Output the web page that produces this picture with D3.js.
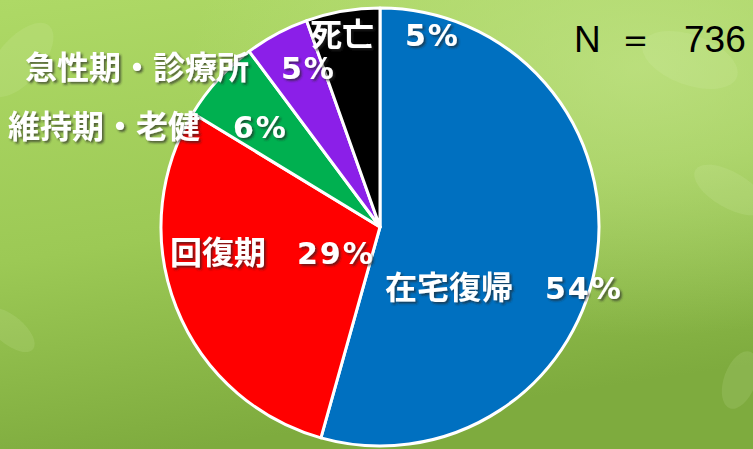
<!DOCTYPE html>
<html>
<head>
<meta charset="utf-8">
<script src="https://cdn.jsdelivr.net/npm/d3@7"></script>
<style>
  body { margin: 0; }
  svg { display: block; }
</style>
</head>
<body>
<div class="canvas"></div>
<script>
const categories = ["在宅復帰", "回復期", "維持期・老健", "急性期・診療所", "死亡"];
const counts = [400, 216, 45, 35, 40];
const colours = ["#0070c0", "#ff0000", "#00b050", "#8b1fe8", "#000000"];
const total = 736;

// label placement (name start x, pct start x, baseline y)
const labelPos = [
  {nx: 385, px: 545, y: 299},
  {nx: 170, px: 297, y: 264},
  {nx: 8,   px: 233, y: 138},
  {nx: 25,  px: 281, y: 79},
  {nx: 310, px: 405, y: 46}
];

const width = 753, height = 449;
const cx = 380, cy = 227, radius = 219;

const svg = d3.select('.canvas')
  .append('svg')
  .attr('width', width)
  .attr('height', height);

const defs = svg.append('defs');
const bg = defs.append('linearGradient')
  .attr('id', 'bg')
  .attr('x1', 0).attr('y1', 0).attr('x2', 0.25).attr('y2', 1);
bg.append('stop').attr('offset', '0%').attr('stop-color', '#aed966');
bg.append('stop').attr('offset', '55%').attr('stop-color', '#9cc955');
bg.append('stop').attr('offset', '100%').attr('stop-color', '#7eab3e');

const glow = defs.append('radialGradient')
  .attr('id', 'glow')
  .attr('cx', 0.85).attr('cy', 0.15).attr('r', 0.6);
glow.append('stop').attr('offset', '0%').attr('stop-color', '#c4e58a').attr('stop-opacity', 0.7);
glow.append('stop').attr('offset', '100%').attr('stop-color', '#c4e58a').attr('stop-opacity', 0);

const shadow = defs.append('filter')
  .attr('id', 'shadow')
  .attr('x', '-10%').attr('y', '-30%').attr('width', '130%').attr('height', '160%');
shadow.append('feDropShadow')
  .attr('dx', 2).attr('dy', 2).attr('stdDeviation', 1.2)
  .attr('flood-color', '#202020').attr('flood-opacity', 0.65);

svg.append('rect').attr('width', width).attr('height', height).attr('fill', 'url(#bg)');
svg.append('rect').attr('width', width).attr('height', height).attr('fill', 'url(#glow)');

// faint leaves in the background
const leaves = [
  {x: 20, y: 60, rx: 45, ry: 22, r: -50},
  {x: 730, y: 190, rx: 40, ry: 18, r: 30},
  {x: 740, y: 380, rx: 30, ry: 16, r: -70},
  {x: 10, y: 330, rx: 30, ry: 14, r: 40},
  {x: 690, y: 60, rx: 50, ry: 25, r: 20}
];
svg.append('g').selectAll('ellipse')
  .data(leaves)
  .join('ellipse')
  .attr('cx', d => d.x).attr('cy', d => d.y)
  .attr('rx', d => d.rx).attr('ry', d => d.ry)
  .attr('transform', d => `rotate(${d.r}, ${d.x}, ${d.y})`)
  .attr('fill', '#e6f5c8')
  .attr('opacity', 0.12);

const pie = d3.pie().sort(null).value(d => d.count);
const arc = d3.arc().innerRadius(0).outerRadius(radius);

const data = categories.map((c, i) => ({name: c, count: counts[i], colour: colours[i], pos: labelPos[i]}));

const graph = svg.append('g')
  .attr('transform', `translate(${cx}, ${cy})`);

graph.selectAll('path')
  .data(pie(data))
  .join('path')
  .attr('d', arc)
  .attr('fill', d => d.data.colour)
  .attr('stroke', '#ffffff')
  .attr('stroke-width', 3)
  .attr('stroke-linejoin', 'round');

const labels = svg.append('g').attr('filter', 'url(#shadow)').attr('fill', '#ffffff');

labels.selectAll('text.name')
  .data(data)
  .join('text')
  .attr('class', 'name')
  .attr('x', d => d.pos.nx)
  .attr('y', d => d.pos.y)
  .attr('font-family', '"Noto Sans CJK JP", sans-serif')
  .attr('font-weight', 'bold')
  .attr('font-size', 32)
  .text(d => d.name);

labels.selectAll('text.pct')
  .data(data)
  .join('text')
  .attr('class', 'pct')
  .attr('x', d => d.pos.px)
  .attr('y', d => d.pos.y)
  .attr('font-family', '"DejaVu Sans", sans-serif')
  .attr('font-weight', 'bold')
  .attr('font-size', 30)
  .attr('letter-spacing', 2)
  .text(d => Math.round(d.count / total * 100) + '%');

const nText = svg.append('text')
  .attr('y', 52)
  .attr('font-family', '"Liberation Sans", sans-serif')
  .attr('font-size', 37)
  .attr('fill', '#000000');
nText.append('tspan').attr('x', 574).text('N');
nText.append('tspan').attr('x', 617).text('＝');
nText.append('tspan').attr('x', 684).text(total);
</script>
</body>
</html>
